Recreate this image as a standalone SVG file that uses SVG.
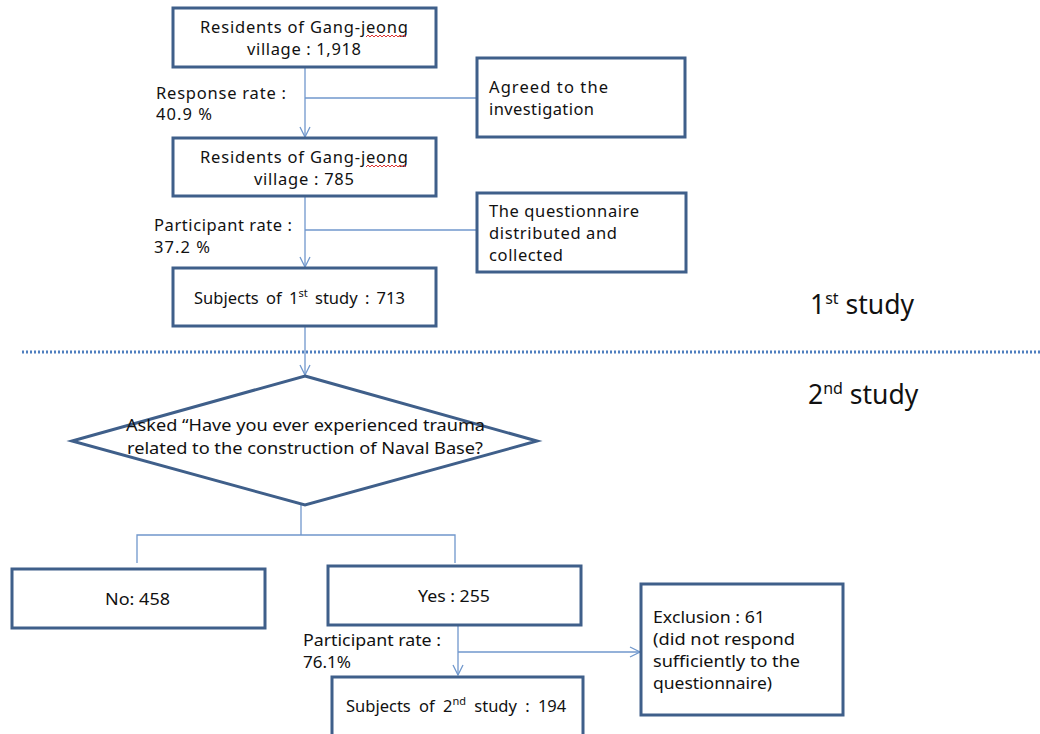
<svg xmlns="http://www.w3.org/2000/svg" width="1040" height="734" viewBox="0 0 1040 734">
<defs>
<style>
.box{fill:#fff;stroke:#3f5f8a;stroke-width:3}
.ln{fill:none;stroke:#7097cc;stroke-width:1.3}
.t{font-family:"Noto Sans","Open Sans",sans-serif;font-size:16.5px;fill:#111}
.big{font-family:"Noto Sans","Open Sans",sans-serif;font-size:26.5px;fill:#111}
.sq{stroke:#d33;stroke-width:1;fill:none}
</style>
<marker id="ah" viewBox="0 0 12 12" refX="11" refY="6" markerWidth="12" markerHeight="12" markerUnits="userSpaceOnUse" orient="auto">
<path d="M1,1 L11,6 L1,11" fill="none" stroke="#7097cc" stroke-width="1.3"/>
</marker>
</defs>
<rect width="1040" height="734" fill="#fff"/>
<g id="connectors">
<line class="ln" x1="305" y1="67" x2="305" y2="137" marker-end="url(#ah)"/>
<line class="ln" x1="305" y1="98" x2="477" y2="98"/>
<line class="ln" x1="305" y1="196" x2="305" y2="267" marker-end="url(#ah)"/>
<line class="ln" x1="305" y1="230" x2="477" y2="230"/>
<line class="ln" x1="305" y1="326" x2="305" y2="375" marker-end="url(#ah)"/>
<polyline class="ln" points="301,505 301,535"/>
<polyline class="ln" points="137,563 137,535 455,535 455,563"/>
<line class="ln" x1="458" y1="626" x2="458" y2="675" marker-end="url(#ah)"/>
<line class="ln" x1="458" y1="652" x2="640" y2="652" marker-end="url(#ah)"/>
</g>
<line x1="22" y1="352" x2="1040" y2="352" stroke="#4f7fbf" stroke-width="3" stroke-dasharray="2,2"/>
<g id="n1">
<rect class="box" x="173" y="8" width="263" height="59"/>
<text class="t" x="200" y="33" textLength="208" lengthAdjust="spacing">Residents of Gang-jeong</text>
<text class="t" x="247" y="55" textLength="114" lengthAdjust="spacing">village : 1,918</text>
<path class="sq" d="M366,37 l2,-2 l2,2 l2,-2 l2,2 l2,-2 l2,2 l2,-2 l2,2 l2,-2 l2,2 l2,-2 l2,2 l2,-2 l2,2 l2,-2 l2,2 l2,-2 l2,2 l2,-2 l2,2"/>
</g>
<g id="lab1">
<text class="t" x="156" y="99" textLength="130" lengthAdjust="spacing">Response  rate :</text>
<text class="t" x="156" y="120" textLength="56" lengthAdjust="spacing">40.9 %</text>
</g>
<g id="n_agreed">
<rect class="box" x="477" y="58" width="208" height="79"/>
<text class="t" x="489" y="93" textLength="119" lengthAdjust="spacing">Agreed to the</text>
<text class="t" x="489" y="115" textLength="105" lengthAdjust="spacing">investigation</text>
</g>
<g id="n2">
<rect class="box" x="173" y="138" width="263" height="58"/>
<text class="t" x="200" y="163" textLength="208" lengthAdjust="spacing">Residents of Gang-jeong</text>
<text class="t" x="254" y="185" textLength="100" lengthAdjust="spacing">village : 785</text>
<path class="sq" d="M366,167 l2,-2 l2,2 l2,-2 l2,2 l2,-2 l2,2 l2,-2 l2,2 l2,-2 l2,2 l2,-2 l2,2 l2,-2 l2,2 l2,-2 l2,2 l2,-2 l2,2 l2,-2 l2,2"/>
</g>
<g id="lab2">
<text class="t" x="154" y="231" textLength="138" lengthAdjust="spacing">Participant rate :</text>
<text class="t" x="154" y="253" textLength="56" lengthAdjust="spacing">37.2 %</text>
</g>
<g id="n_quest">
<rect class="box" x="477" y="193" width="209" height="79"/>
<text class="t" x="489" y="217" textLength="150" lengthAdjust="spacing">The questionnaire</text>
<text class="t" x="489" y="239" textLength="128" lengthAdjust="spacing">distributed  and</text>
<text class="t" x="489" y="261" textLength="74" lengthAdjust="spacing">collected</text>
</g>
<g id="n3">
<rect class="box" x="173" y="268" width="263" height="58"/>
<text class="t" x="194" y="304" word-spacing="3">Subjects of 1<tspan font-size="11" dy="-7">st</tspan><tspan dy="7"> study : 713</tspan></text>
</g>
<text class="big" x="810" y="314">1<tspan font-size="16" dy="-10">st</tspan><tspan dy="10"> study</tspan></text>
<text class="big" x="808" y="404">2<tspan font-size="16" dy="-10">nd</tspan><tspan dy="10"> study</tspan></text>
<g id="n_diamond">
<polygon class="box" points="305,376 537,441 305,505 72,441"/>
<text class="t" x="126" y="431" textLength="359" lengthAdjust="spacingAndGlyphs">Asked “Have you ever experienced trauma</text>
<text class="t" x="127" y="454" textLength="356" lengthAdjust="spacingAndGlyphs">related to the construction of Naval Base?</text>
</g>
<g id="n_no">
<rect class="box" x="12" y="569" width="253" height="59"/>
<text class="t" x="105" y="605" textLength="65" lengthAdjust="spacingAndGlyphs">No: 458</text>
</g>
<g id="n_yes">
<rect class="box" x="328" y="566" width="253" height="59"/>
<text class="t" x="418" y="602" textLength="72" lengthAdjust="spacingAndGlyphs">Yes : 255</text>
</g>
<g id="lab3">
<text class="t" x="303" y="646" textLength="138" lengthAdjust="spacingAndGlyphs">Participant rate :</text>
<text class="t" x="303" y="668" textLength="48" lengthAdjust="spacingAndGlyphs">76.1%</text>
</g>
<g id="n_excl">
<rect class="box" x="641" y="584" width="202" height="131"/>
<text class="t" x="653" y="623" textLength="112" lengthAdjust="spacingAndGlyphs">Exclusion : 61</text>
<text class="t" x="653" y="645" textLength="142" lengthAdjust="spacingAndGlyphs">(did not respond</text>
<text class="t" x="653" y="667" textLength="147" lengthAdjust="spacingAndGlyphs">sufficiently to the</text>
<text class="t" x="653" y="689" textLength="119" lengthAdjust="spacingAndGlyphs">questionnaire)</text>
</g>
<g id="n_sub2">
<rect class="box" x="332" y="677" width="251" height="62"/>
<text class="t" x="346" y="712" word-spacing="4">Subjects of 2<tspan font-size="11" dy="-7">nd</tspan><tspan dy="7"> study : 194</tspan></text>
</g>
</svg>
